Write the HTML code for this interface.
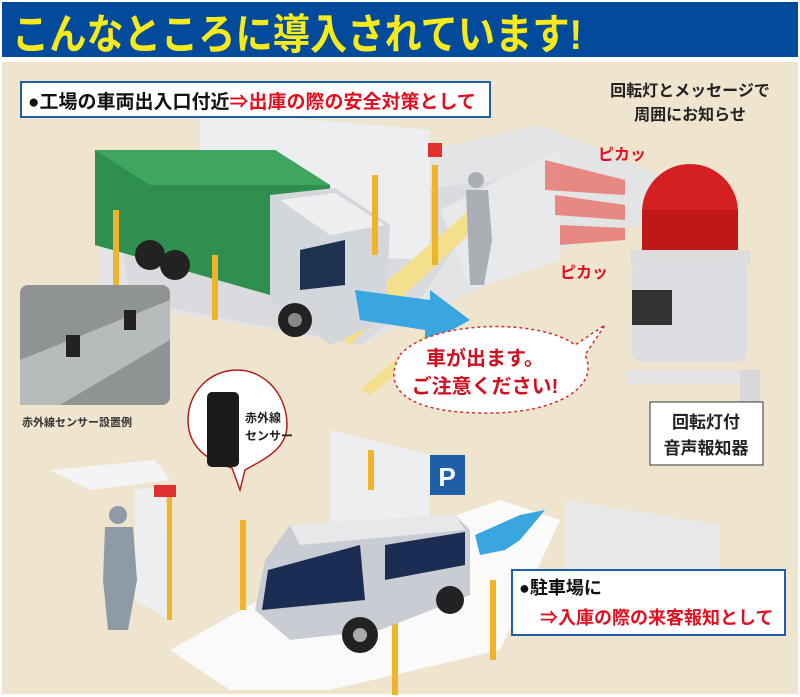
<!DOCTYPE html>
<html><head><meta charset="utf-8"><style>
html,body{margin:0;padding:0;background:#fff;}
svg{display:block;}
text{font-family:"Liberation Sans","Noto Sans CJK JP",sans-serif;font-weight:bold;}
</style></head><body>
<svg width="800" height="697" viewBox="0 0 800 697" xmlns="http://www.w3.org/2000/svg">
<rect x="0" y="0" width="800" height="697" fill="#fff"/>
<rect x="2" y="2" width="796" height="55" fill="#024a9c"/>
<text x="12" y="49" font-size="42" fill="#f7ea1a" textLength="570" lengthAdjust="spacingAndGlyphs">こんなところに導入されています!</text>
<rect x="2" y="62" width="796" height="632" fill="#efe5cf"/>

<!-- upper ground -->
<polygon points="100,225 540,125 720,200 560,250 360,345 100,300" fill="#e2e4e6"/>
<polygon points="120,230 330,200 500,180 420,300 360,345 130,300" fill="#d9dbde"/>
<polygon points="440,210 560,150 560,260 470,290" fill="#e8e9ea"/>
<polygon points="200,110 430,130 430,260 200,250" fill="#eceeef"/>
<polygon points="330,330 470,210 490,215 350,345" fill="#f3df8c"/>
<polygon points="360,390 430,330 440,340 370,395" fill="#f3df8c"/>

<!-- truck -->
<polygon points="95,150 275,150 330,185 330,260 270,295 95,245" fill="#2f8f4f"/>
<polygon points="95,150 275,150 330,185 150,185" fill="#3fa55f"/>
<polygon points="270,195 335,188 390,225 385,320 330,345 270,300" fill="#d3d6da"/>
<polygon points="280,200 335,193 385,225 330,235" fill="#eeeff1"/>
<polygon points="300,250 345,240 345,285 300,290" fill="#1d3250"/>
<circle cx="150" cy="255" r="15" fill="#222"/><circle cx="175" cy="265" r="15" fill="#222"/>
<circle cx="295" cy="320" r="17" fill="#222"/><circle cx="295" cy="320" r="7" fill="#888"/>
<!-- poles upper -->
<rect x="113" y="210" width="6" height="80" fill="#f0b428"/>
<rect x="212" y="255" width="6" height="65" fill="#f0b428"/>
<rect x="372" y="175" width="6" height="80" fill="#f0b428"/>
<rect x="432" y="165" width="6" height="100" fill="#f0b428"/>
<rect x="428" y="143" width="14" height="14" fill="#e03030"/>
<!-- old man -->
<circle cx="476" cy="180" r="8" fill="#a9afb5"/>
<polygon points="466,190 488,190 492,240 484,285 470,285 468,240" fill="#a9afb5"/>
<!-- blue arrow upper -->
<polygon points="355,290 430,300 430,290 470,320 425,345 425,330 360,320" fill="#3aa6e0"/>
<!-- red beams -->
<polygon points="545,160 625,180 625,195 545,190" fill="#e8706a" opacity="0.8"/>
<polygon points="555,195 625,205 625,220 555,215" fill="#e8706a" opacity="0.8"/>
<polygon points="560,225 625,228 625,240 560,245" fill="#e8706a" opacity="0.8"/>
<text x="598" y="160" font-size="16" fill="#e01020">ピカッ</text>
<text x="560" y="278" font-size="16" fill="#e01020">ピカッ</text>

<!-- light -->
<ellipse cx="690" cy="212" rx="48" ry="48" fill="#d42020"/>
<rect x="642" y="210" width="96" height="45" fill="#c01818"/>
<rect x="630" y="250" width="120" height="15" fill="#ddd"/>
<rect x="632" y="262" width="115" height="100" rx="10" fill="#dcdde0"/>
<rect x="632" y="290" width="40" height="35" fill="#333"/>
<rect x="625" y="370" width="130" height="14" fill="#e3e3e3"/>
<rect x="740" y="370" width="20" height="80" fill="#d8d8d8"/>
<rect x="650" y="402" width="113" height="63" fill="#fff" stroke="#333" stroke-width="1"/>
<text x="706" y="428" font-size="17" fill="#222" text-anchor="middle">回転灯付</text>
<text x="706" y="454" font-size="17" fill="#222" text-anchor="middle">音声報知器</text>

<!-- photo inset -->
<rect x="20" y="285" width="150" height="120" rx="8" fill="#8f9394"/>
<polygon points="20,360 170,300 170,340 60,405 20,405" fill="#b8bbbb"/>
<rect x="66" y="335" width="14" height="22" fill="#222"/>
<rect x="124" y="310" width="12" height="20" fill="#222"/>
<text x="22" y="426" font-size="11" fill="#333" font-weight="normal">赤外線センサー設置例</text>

<!-- bubble -->
<path d="M400,355 C430,320 540,318 575,345 L605,325 L585,355 C600,385 560,415 480,413 C410,412 380,390 400,355 Z" fill="#fff" stroke="#d03030" stroke-width="1.5" stroke-dasharray="3,3"/>
<text x="485" y="365" font-size="20" fill="#d01020" text-anchor="middle">車が出ます。</text>
<text x="485" y="393" font-size="20" fill="#d01020" text-anchor="middle">ご注意ください!</text>

<!-- label 1 -->
<rect x="21" y="82" width="469" height="35" fill="#fff" stroke="#1f5fa8" stroke-width="2"/>
<text x="28" y="108" font-size="19" fill="#111">●工場の車両出入口付近<tspan fill="#e01020">⇒出庫の際の安全対策として</tspan></text>
<text x="690" y="96" font-size="16" fill="#222" text-anchor="middle">回転灯とメッセージで</text>
<text x="690" y="120" font-size="16" fill="#222" text-anchor="middle">周囲にお知らせ</text>

<!-- lower area -->
<polygon points="170,650 330,560 500,500 560,520 500,650 330,690 230,690" fill="#fafafa"/>
<polygon points="330,430 430,455 430,540 330,560" fill="#eceeef"/>
<polygon points="565,500 720,525 720,630 565,610" fill="#e6e8ea"/>
<polygon points="50,470 155,460 170,480 90,490" fill="#f4f4f4"/>
<polygon points="135,490 165,485 170,620 135,600" fill="#eceeef"/>
<rect x="430" y="455" width="35" height="40" fill="#1f5fa8"/>
<text x="447" y="486" font-size="26" fill="#fff" text-anchor="middle">P</text>
<!-- sensor callout -->
<path d="M237,370 C265,370 287,395 287,425 C287,450 262,460 245,470 L240,490 L232,468 C205,460 188,445 188,420 C188,392 210,370 237,370 Z" fill="#fff" stroke="#b02020" stroke-width="1.5"/>
<rect x="207" y="392" width="32" height="75" rx="5" fill="#1a1a1a"/>
<text x="245" y="422" font-size="12" fill="#222">赤外線</text>
<text x="245" y="440" font-size="12" fill="#222">センサー</text>
<!-- guard -->
<circle cx="118" cy="515" r="9" fill="#8e9ba6"/>
<polygon points="105,527 133,527 137,580 128,630 108,630 103,580" fill="#8e9ba6"/>
<rect x="167" y="495" width="5" height="125" fill="#f0b428"/>
<rect x="154" y="485" width="22" height="12" fill="#e03030"/>
<rect x="240" y="520" width="6" height="90" fill="#f0b428"/>
<rect x="368" y="450" width="6" height="40" fill="#f0b428"/>
<rect x="392" y="615" width="6" height="80" fill="#f0b428"/>
<rect x="490" y="580" width="6" height="80" fill="#f0b428"/>
<!-- van -->
<polygon points="290,525 455,515 470,530 470,595 380,630 290,640 255,610 265,560" fill="#c9ccd2"/>
<polygon points="290,525 455,515 465,530 300,545" fill="#e6e8ea"/>
<polygon points="268,570 360,545 365,600 262,610" fill="#1b2d52"/>
<polygon points="385,545 465,532 465,565 385,580" fill="#1b2d52"/>
<circle cx="360" cy="635" r="18" fill="#222"/><circle cx="360" cy="635" r="7" fill="#aaa"/>
<circle cx="450" cy="600" r="14" fill="#222"/>
<polygon points="475,535 520,515 545,510 520,540 505,550 480,555" fill="#3aa6e0"/>
<!-- label 2 -->
<rect x="512" y="570" width="273" height="65" fill="#fff" stroke="#1f5fa8" stroke-width="2"/>
<text x="519" y="594" font-size="18" fill="#111">●駐車場に</text>
<text x="540" y="624" font-size="18" fill="#e01020">⇒入庫の際の来客報知として</text>
</svg>
</body></html>
